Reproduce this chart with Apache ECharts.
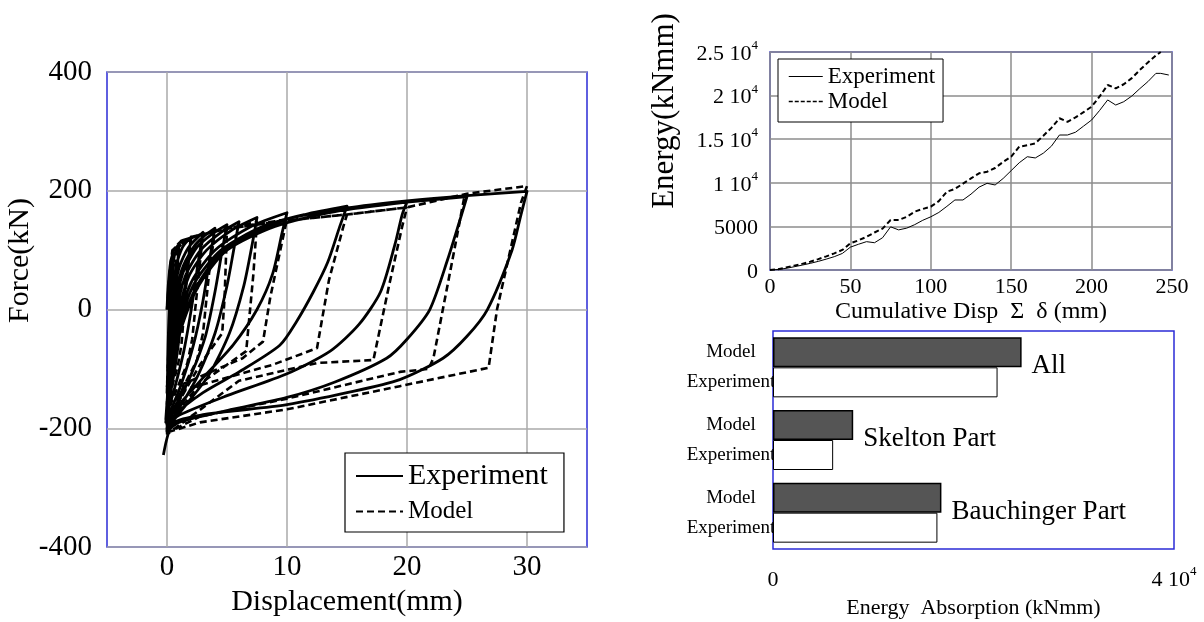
<!DOCTYPE html>
<html>
<head>
<meta charset="utf-8">
<script src="https://cdn.jsdelivr.net/npm/echarts@6/dist/echarts.min.js"></script>
<style>
  html, body { margin: 0; padding: 0; background: #fff; }
  #chart { width: 1204px; height: 622px; }
</style>
</head>
<body>
<div id="chart"></div>
<script>
// Hysteresis loops: [displacement (mm), force (kN)] in loading order
const experimentPath = [
  [0,0],[0.1,40],[0.3,80],[0.5,95],
  [0.4,40],[0.25,-30],[0.05,-100],
  [0.15,-20],[0.35,50],[0.6,90],[1,110],
  [0.8,50],[0.55,-40],[0.25,-110],[0,-140],
  [0.15,-60],[0.4,20],[0.8,75],[1.3,105],[2,122],
  [1.7,70],[1.3,0],[0.8,-80],[0.3,-140],[0,-165],
  [0.2,-80],[0.5,10],[1,70],[1.8,105],[3,130],
  [2.6,80],[2.1,10],[1.4,-70],[0.6,-135],[0,-175],
  [0.25,-90],[0.6,0],[1.2,65],[2.2,105],[3,122],[4,137],
  [3.6,90],[3,15],[2.2,-60],[1.2,-125],[0.3,-170],[-0.1,-185],
  [0.2,-100],[0.6,-10],[1.3,60],[2.5,105],[3.8,128],[5,143],
  [4.6,100],[4,30],[3.2,-45],[2,-110],[0.8,-160],[-0.1,-190],
  [0.2,-110],[0.7,-15],[1.5,55],[2.8,100],[4.5,130],[6,148],
  [5.6,105],[5,40],[4,-40],[2.6,-110],[1.2,-160],[0,-195],
  [0.3,-110],[0.8,-20],[1.8,55],[3.3,100],[5.5,135],[7.5,155],
  [7.1,110],[6.4,40],[5.2,-40],[3.5,-110],[1.6,-160],[0,-200],
  [0.3,-120],[0.9,-30],[2,45],[4,100],[7,140],[10,163],
  [9.6,130],[8.8,60],[7.5,0],[5.5,-60],[3,-115],[1,-160],[0,-185],
  [0.3,-110],[1,-30],[2.3,45],[4.5,100],[8,140],[11.5,160],[15,174],
  [14.4,140],[13.4,80],[12.2,30],[10.8,-20],[9.4,-60],[6,-105],[3,-140],[0.5,-180],[0,-200],
  [0.3,-125],[1,-40],[2.5,40],[5,100],[9,140],[14,165],[20,181],
  [19.6,160],[19,110],[17.8,30],[16,-25],[13.6,-70],[10,-108],[5,-145],[1,-178],[0,-195],
  [0.3,-125],[1,-40],[2.5,40],[5,105],[10,152],[15,170],[20,181],[25,190],
  [24.4,150],[23.4,85],[21.9,0],[20,-50],[18.3,-82],[14,-122],[10,-148],[5,-170],[1,-190],[0,-205],
  [0.3,-135],[1,-45],[2.5,35],[5,100],[10,152],[15,171],[20,183],[25,192],[30,199],
  [29.5,160],[28.75,100],[26.7,0],[25,-45],[23,-82],[19.4,-118],[15,-140],[10,-160],[5,-172],[2.75,-178],[0.5,-192],[-0.3,-245]
];

const modelPath = [
  [0,0],[0.2,60],[0.45,100],[0.8,105],
  [0.6,20],[0.4,-80],[0,-130],
  [0.2,-30],[0.45,95],[0.9,108],[2,120],
  [1.6,40],[1.2,-60],[0.9,-95],[0,-160],
  [0.2,-40],[0.5,100],[1,112],[3,128],
  [2.6,50],[2.1,-50],[1.7,-90],[0,-175],
  [0.25,-50],[0.5,100],[1.2,116],[4,133],
  [3.5,60],[3,-40],[2.5,-85],[0,-185],
  [0.3,-50],[0.6,100],[1.5,118],[5,138],
  [4.8,20],[4.6,-40],[2.75,-93],[0,-190],
  [0.3,-50],[0.6,100],[2,122],[5,136],[7.5,148],
  [7.2,60],[6.6,-70],[2.75,-125],[0,-195],
  [0.3,-55],[0.6,100],[2,122],[5,136],[10,152],
  [9.6,115],[8.6,20],[8,-54],[6.3,-82],[1.4,-125],[0,-200],
  [0.3,-60],[0.6,100],[2,122],[5,136],[10,150],[15,160],
  [14.7,140],[13.5,50],[12.5,-65],[8.8,-93],[1.4,-135],[0,-205],
  [0.3,-60],[0.6,100],[2,122],[5,136],[10,150],[15,160],[20,172],
  [19.6,140],[18.5,40],[17.2,-85],[12.5,-90],[6,-120],[0,-210],
  [0.3,-60],[0.6,100],[2,122],[5,136],[10,150],[15,160],[20,172],[25,195],
  [24.8,192],[23.8,85],[22.2,-82],[21.8,-100],[19.4,-105],[10,-150],[2.75,-180],[0,-208],
  [0.3,-60],[0.6,100],[2,122],[5,136],[10,150],[15,160],[20,172],[25,195],[30,208],
  [29.5,180],[28.5,90],[27.5,0],[26.8,-98],[19.4,-129],[10,-168],[2.75,-190],[0,-207]
];

// Cumulative energy vs cumulative displacement
const cumDispExp = [0,5,10,15,20,25,30,35,40,45,50,55,60,65,70,75,80,85,90,95,100,105,110,115,120,125,130,135,140,145,150,155,160,165,170,175,180,185,190,195,200,205,210,215,220,225,230,235,240,243,248];
const energyExp = [0,60,190,370,560,760,990,1250,1530,1900,2620,2950,3250,3130,3700,4950,4600,4800,5200,5700,6100,6600,7300,8030,8030,8700,9500,9940,9750,10500,11400,12300,12990,12850,13400,14200,15480,15480,15800,16500,17200,18300,19500,18920,19300,19950,20800,21600,22550,22550,22360];
const cumDispModel = [0,5,10,15,20,25,30,35,40,45,50,55,60,65,70,75,80,85,90,95,100,105,110,115,120,125,130,135,140,145,150,155,160,165,170,175,180,185,190,195,200,205,210,215,220,225,230,235,240,243];
const energyModel = [0,80,300,500,700,950,1250,1560,1910,2300,3060,3400,3800,4300,4750,5730,5730,6100,6690,7000,7260,7900,8980,9300,9900,10500,11090,11270,11700,12400,12990,14140,14300,14530,15400,16300,17400,17000,17500,18100,18730,19900,21220,20840,21300,22000,22940,23800,24600,25000];

// Energy absorption split (kNmm), bottom-to-top category order
const partNames = ['Bauchinger Part', 'Skelton Part', 'All'];
const partModel = [16800, 8000, 24800];
const partExperiment = [16400, 6000, 22400];

const serif = "'Liberation Serif','Times New Roman',serif";
const blue = '#2b2bd6';
const pairs = (xs, ys) => xs.map((x, i) => [x, ys[i]]);

// "1.5 10^4" style labels with a raised exponent
const sciRich = {
  n: { fontSize: 22, fontFamily: serif, color: '#000', lineHeight: 26, verticalAlign: 'bottom' },
  s: { fontSize: 13, fontFamily: serif, color: '#000', lineHeight: 12, verticalAlign: 'top' }
};
const sciText = v => '{n|' + (v / 10000) + ' 10}{s|4}';
const energyTick = v => (v === 0 || v === 5000) ? '{n|' + v + '}' : sciText(v);

const chart = echarts.init(document.getElementById('chart'));
chart.setOption({
  animation: false,
  backgroundColor: '#fff',
  textStyle: { fontFamily: serif, color: '#000' },
  grid: [
    { left: 107, top: 72, width: 480, height: 480, show: true, borderColor: blue, borderWidth: 1.5 },
    { left: 770, top: 52, width: 402, height: 218, show: true, borderColor: blue, borderWidth: 1.5 },
    { left: 773, top: 331, width: 401, height: 218, show: true, borderColor: blue, borderWidth: 1.5 }
  ],
  legend: [
    {
      left: 345, top: 453, orient: 'vertical',
      padding: [8, 16, 8, 10], itemGap: 8, itemWidth: 47, itemHeight: 14,
      borderColor: '#000', borderWidth: 1.2, backgroundColor: '#fff',
      itemStyle: { opacity: 0 },
      textStyle: { fontFamily: serif, color: '#000' },
      data: [
        { name: 'Experiment', textStyle: { fontSize: 30 } },
        { name: 'Model', textStyle: { fontSize: 25 } }
      ]
    },
    {
      left: 778, top: 59, orient: 'vertical',
      padding: [6, 8, 9, 10], itemGap: 2, itemWidth: 34, itemHeight: 12,
      borderColor: '#000', borderWidth: 1, backgroundColor: '#fff',
      itemStyle: { opacity: 0 },
      textStyle: { fontFamily: serif, color: '#000', fontSize: 23 },
      data: [
        { name: 'Experiment', lineStyle: { width: 1, type: 'solid', color: '#000' } },
        { name: 'Model', lineStyle: { width: 1.5, type: [4, 2], color: '#000' } }
      ]
    }
  ],
  xAxis: [
    {
      gridIndex: 0, type: 'value', min: -5, max: 35,
      axisLine: { show: false },
      axisTick: { show: false, customValues: [0, 10, 20, 30] },
      axisLabel: { customValues: [0, 10, 20, 30], fontSize: 29, margin: 6, color: '#000', fontFamily: serif },
      splitLine: { show: true, lineStyle: { color: '#aaaaaa', width: 1.5 } },
      name: 'Displacement(mm)', nameLocation: 'middle', nameGap: 38,
      nameTextStyle: { fontSize: 30, fontFamily: serif, color: '#000' }
    },
    {
      gridIndex: 1, type: 'value', min: 0, max: 250, interval: 50,
      axisLine: { show: false }, axisTick: { show: false },
      axisLabel: { fontSize: 22, margin: 6, color: '#000', fontFamily: serif },
      splitLine: { show: true, lineStyle: { color: '#8c8c8c', width: 1.5 } },
      name: 'Cumulative Disp  \u03A3  \u03B4 (mm)', nameLocation: 'middle', nameGap: 30,
      nameTextStyle: { fontSize: 24, fontFamily: serif, color: '#000' }
    },
    {
      gridIndex: 2, type: 'value', min: 0, max: 40000, interval: 40000,
      axisLine: { show: false }, axisTick: { show: false }, splitLine: { show: false },
      axisLabel: { margin: 16, color: '#000', fontFamily: serif, formatter: energyTick, rich: sciRich },
      name: 'Energy  Absorption (kNmm)', nameLocation: 'middle', nameGap: 48,
      nameTextStyle: { fontSize: 22, fontFamily: serif, color: '#000' }
    }
  ],
  yAxis: [
    {
      gridIndex: 0, type: 'value', min: -400, max: 400, interval: 200,
      axisLine: { show: false }, axisTick: { show: false },
      axisLabel: { fontSize: 29, margin: 15, color: '#000', fontFamily: serif, padding: [0, 0, 8, 0] },
      splitLine: { show: true, lineStyle: { color: '#aaaaaa', width: 1.5 } },
      name: 'Force(kN)', nameLocation: 'middle', nameGap: 64,
      nameTextStyle: { fontSize: 30, fontFamily: serif, color: '#000', padding: [0, 0, 0, 98] }
    },
    {
      gridIndex: 1, type: 'value', min: 0, max: 25000, interval: 5000,
      axisLine: { show: false }, axisTick: { show: false },
      axisLabel: { margin: 12, color: '#000', fontFamily: serif, formatter: energyTick, rich: sciRich },
      splitLine: { show: true, lineStyle: { color: '#8c8c8c', width: 1.5 } },
      name: 'Energy(kNmm)', nameLocation: 'middle', nameGap: 90,
      nameTextStyle: { fontSize: 31, fontFamily: serif, color: '#000', padding: [0, 0, 0, 100] }
    },
    {
      gridIndex: 2, type: 'category', data: partNames,
      axisLine: { show: false }, axisTick: { show: false }, splitLine: { show: false },
      axisLabel: {
        margin: 42, align: 'center', color: '#000',
        formatter: () => '{m|Model}\n{e|Experiment}',
        rich: {
          m: { fontSize: 19, fontFamily: serif, color: '#000', lineHeight: 30, align: 'center' },
          e: { fontSize: 19, fontFamily: serif, color: '#000', lineHeight: 30, align: 'center' }
        }
      }
    }
  ],
  series: [
    {
      name: 'Experiment', type: 'line', xAxisIndex: 0, yAxisIndex: 0,
      data: experimentPath, symbol: 'none', smooth: 0.25,
      lineStyle: { color: '#000', width: 2.8, join: 'round' }, itemStyle: { color: '#000' }, z: 3
    },
    {
      name: 'Model', type: 'line', xAxisIndex: 0, yAxisIndex: 0,
      data: modelPath, symbol: 'none',
      lineStyle: { color: '#000', width: 2.6, type: [7, 4] }, itemStyle: { color: '#000' }, z: 2
    },
    {
      name: 'Experiment', type: 'line', xAxisIndex: 1, yAxisIndex: 1,
      data: pairs(cumDispExp, energyExp), symbol: 'none',
      lineStyle: { color: '#000', width: 1 }
    },
    {
      name: 'Model', type: 'line', xAxisIndex: 1, yAxisIndex: 1,
      data: pairs(cumDispModel, energyModel), symbol: 'none',
      lineStyle: { color: '#000', width: 2, type: [5, 3] }
    },
    {
      name: 'Model', type: 'bar', xAxisIndex: 2, yAxisIndex: 2,
      data: partModel, barWidth: 30, barGap: '0%',
      itemStyle: { color: '#555555', borderColor: '#000', borderWidth: 1.5 },
      label: {
        show: true, position: 'right', distance: 10, offset: [0, 14],
        formatter: '{b}', fontSize: 27, fontFamily: serif, color: '#000'
      }
    },
    {
      name: 'Experiment', type: 'bar', xAxisIndex: 2, yAxisIndex: 2,
      data: partExperiment, barWidth: 30, barGap: '0%',
      itemStyle: { color: '#ffffff', borderColor: '#000', borderWidth: 1 }
    }
  ]
});
</script>
</body>
</html>
